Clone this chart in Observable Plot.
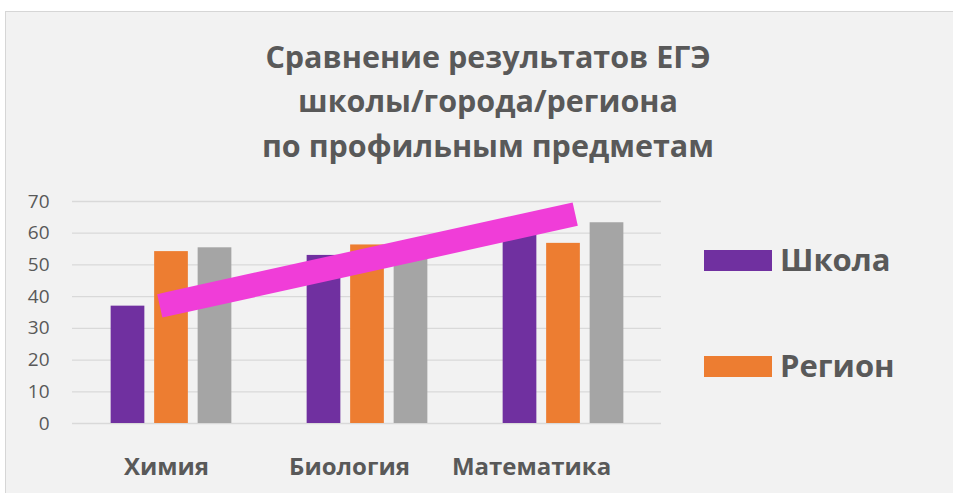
<!DOCTYPE html>
<html>
<head>
<meta charset="utf-8">
<script src="https://cdn.jsdelivr.net/npm/d3@7"></script>
<script src="https://cdn.jsdelivr.net/npm/@observablehq/plot@0.6"></script>
<style>
  html, body { margin: 0; padding: 0; background: #ffffff; overflow: hidden; }
  body { width: 953px; height: 493px; position: relative; font-family: "Open Sans", sans-serif; }
  #panel { position: absolute; left: 5px; top: 11px; width: 960px; height: 500px; background: #f2f2f2; border-left: 1px solid #d6d6d6; border-top: 1px solid #d6d6d6; }
  #title { position: absolute; left: 0; top: 33.5px; width: 976px; text-align: center; font-weight: 700; font-size: 30.5px; line-height: 44.5px; color: #595959; }
  #chart { position: absolute; left: 0; top: 180px; }
  .leg { position: absolute; left: 704px; font-weight: 700; font-size: 31px; line-height: 31px; color: #595959; white-space: nowrap; }
  .sw { position: absolute; left: 0; width: 68px; height: 21px; }
  .lt { position: absolute; left: 76px; top: 0; }
</style>
</head>
<body>
<div id="panel"></div>
<div id="title">Сравнение результатов ЕГЭ<br>школы/города/региона<br>по профильным предметам</div>
<div id="chart"></div>
<div id="legend"></div>
<script>
const subjects = ["Химия", "Биология", "Математика"];
const seriesNames = ["Школа", "Регион", "Город"];
const school = [37, 53, 61];
const region = [54.2, 56.3, 56.8];
const city = [55.4, 55, 63.3];
const yTicks = [0, 10, 20, 30, 40, 50, 60, 70];
const legendNames = ["Школа", "Регион"];
const pinkLine = [
  {subject: "Химия", value: 37.9},
  {subject: "Математика", value: 65.2}
];

const colors = {"Школа": "#7030a0", "Регион": "#ed7d31", "Город": "#a5a5a5"};
const seriesValues = [school, region, city];
const offsets = [-43.5, 0, 43.5];
const labelShift = [-5, -18, -32];

const rows = seriesNames.map((s, k) => subjects.map((sub, i) => ({subject: sub, series: s, value: seriesValues[k][i]})));

const marks = [
  Plot.ruleY(yTicks, {stroke: "#d9d9d9", strokeWidth: 1.3}),
  ...rows.map((r, k) => Plot.barY(r, {
    x: "subject", y: "value", fill: colors[seriesNames[k]],
    dx: offsets[k], insetLeft: 81.15, insetRight: 81.15
  })),
  Plot.line(pinkLine, {x: "subject", y: "value", stroke: "#f03dd8", strokeWidth: 24, strokeLinecap: "square"}),
  Plot.axisY(yTicks, {tickSize: 0, tickPadding: 23, fontSize: 19, fill: "#595959", label: null}),
  ...subjects.map((s, i) => Plot.axisX([s], {tickSize: 0, tickPadding: 34, fontSize: 24, fontWeight: 700, fill: "#595959", dx: labelShift[i], label: null}))
];

const chart = Plot.plot({
  width: 680,
  height: 313,
  marginLeft: 72,
  marginRight: 19,
  marginTop: 21,
  marginBottom: 70,
  style: {background: "transparent", fontFamily: "Open Sans, sans-serif", overflow: "visible"},
  x: {domain: subjects, padding: 0, axis: null},
  y: {domain: [0, 70], axis: null},
  marks
});
document.getElementById("chart").appendChild(chart);

const leg = document.getElementById("legend");
const legTops = [243.5, 349.5];
const swTops = [6.5, 6.2];
legendNames.forEach((n, i) => {
  const d = document.createElement("div");
  d.className = "leg";
  d.style.top = legTops[i] + "px";
  const sw = document.createElement("div");
  sw.className = "sw";
  sw.style.background = colors[n];
  sw.style.top = swTops[i] + "px";
  const t = document.createElement("div");
  t.className = "lt";
  t.textContent = n;
  d.appendChild(sw); d.appendChild(t);
  leg.appendChild(d);
});
</script>
</body>
</html>
